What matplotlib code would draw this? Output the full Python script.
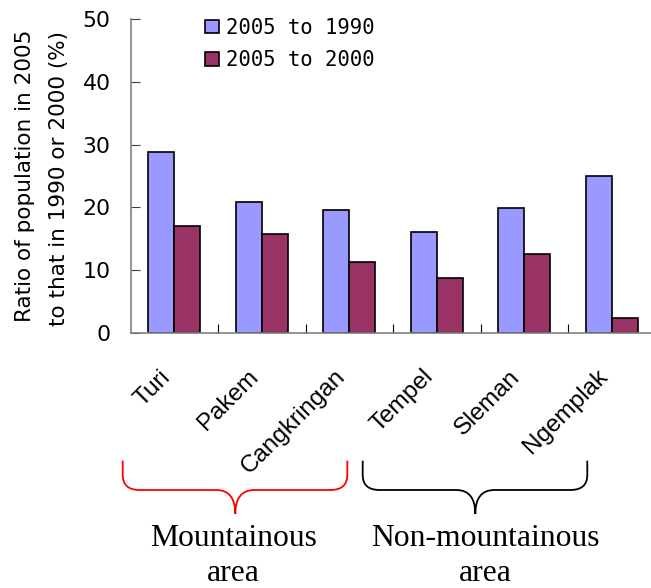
import matplotlib
matplotlib.use("Agg")
import matplotlib.pyplot as plt
import numpy as np
from matplotlib.path import Path
from matplotlib.patches import PathPatch
from matplotlib.transforms import Affine2D, ScaledTranslation

# data
districts = ["Turi", "Pakem", "Cangkringan", "Tempel", "Sleman", "Ngemplak"]
ratio_1990 = [28.8, 20.9, 19.6, 16.1, 19.9, 25.0]
ratio_2000 = [17.0, 15.8, 11.3, 8.7, 12.5, 2.3]
series_labels = ["2005 to 1990", "2005 to 2000"]
ylabel_lines = ["Ratio of population in 2005", "to that in 1990 or 2000 (%)"]
groups = ["Mountainous\narea", "Non-mountainous\narea"]
group_colors = ["red", "black"]

W, H = 651, 588
fig = plt.figure(figsize=(W / 100, H / 100), dpi=100)

# pixel coords (y down) -> figure
px = Affine2D().scale(1 / W, -1 / H).translate(0, 1) + fig.transFigure

ax_left, ax_bottom, ax_top, cat_w = 130.7, 332.7, 19.3, 87.45
ax = fig.add_axes([ax_left / W, 1 - ax_bottom / H, 6 * cat_w / W, (ax_bottom - ax_top) / H])

x = np.arange(len(districts))
bw = 0.297
ax.bar(x - bw / 2, ratio_1990, bw, color="#9999FF", edgecolor="black", linewidth=1.2,
       label=series_labels[0])
ax.bar(x + bw / 2, ratio_2000, bw, color="#993366", edgecolor="black", linewidth=1.2,
       label=series_labels[1])

ax.set_xlim(-0.5, len(districts) - 0.5)
ax.set_ylim(0, 50)
ax.set_yticks(range(0, 51, 10))
ax.set_xticks(x[:-1] + 0.5)
ax.set_xticklabels([])

for side in ["top", "right"]:
    ax.spines[side].set_visible(False)
for side in ["left", "bottom"]:
    ax.spines[side].set_color("#808080")
    ax.spines[side].set_linewidth(1.2)

ax.tick_params(axis="y", direction="in", length=6.3, width=0.8, color="#404040",
               pad=14.5, labelsize=15.8)
ax.tick_params(axis="x", direction="in", length=6.5, width=0.8, color="black")

# rotated district labels
off = ScaledTranslation(-0.03, -0.45, fig.dpi_scale_trans)
for xi, name in zip(x, districts):
    ax.text(xi, 0, name, transform=ax.get_xaxis_transform() + off, rotation=45,
            rotation_mode="anchor", ha="right", va="baseline", fontsize=17.5,
            family="Liberation Sans")

# y label, one text per line (baseline x in px, centre y in px)
for line, bx, cy in zip(ylabel_lines, [31.5, 65.5], [175.5, 179]):
    fig.text(bx, cy, line, transform=px, rotation=90, rotation_mode="anchor",
             ha="center", va="baseline", fontsize=15.5, family="DejaVu Sans")

ax.legend(loc="upper left", bbox_to_anchor=(205 / W, 1 - 17.7 / H),
          bbox_transform=fig.transFigure, frameon=False, borderpad=0, borderaxespad=0,
          handlelength=0.68, handleheight=0.63, handletextpad=0.34, labelspacing=0.6,
          prop={"family": "DejaVu Sans Mono", "size": 14.9})


def brace(x0, x1, xtip, color):
    y_top, y_mid, y_tip = 460.7, 490, 514
    verts = [(x0, y_top), (x0, y_mid - 15), (x0, y_mid), (x0 + 17, y_mid),
             (xtip - 19, y_mid), (xtip, y_mid), (xtip, y_tip),
             (xtip, y_mid), (xtip + 19, y_mid), (x1 - 17, y_mid),
             (x1, y_mid), (x1, y_mid - 15), (x1, y_top)]
    codes = [Path.MOVETO, Path.LINETO, Path.CURVE3, Path.CURVE3,
             Path.LINETO, Path.CURVE3, Path.CURVE3,
             Path.CURVE3, Path.CURVE3, Path.LINETO,
             Path.CURVE3, Path.CURVE3, Path.LINETO]
    fig.patches.append(PathPatch(Path(verts, codes), transform=px, facecolor="none",
                                 edgecolor=color, linewidth=1.3))


brace(122.7, 347.3, 235.3, group_colors[0])
brace(362.7, 587.3, 475.3, group_colors[1])

for label, cx in zip(groups, [233.5, 485.5]):
    for line, by in zip(label.split("\n"), [546, 581]):
        fig.text(cx, by, line, transform=px, ha="center", va="baseline", fontsize=22.8,
                 family="Liberation Serif")

fig.savefig("out.png", dpi=100)
